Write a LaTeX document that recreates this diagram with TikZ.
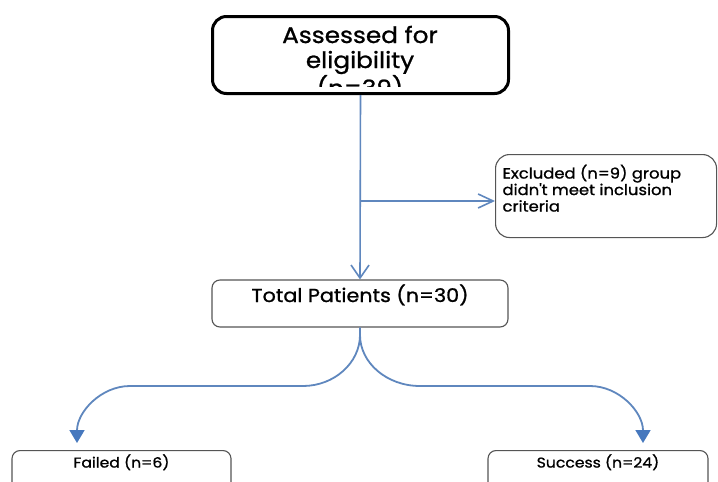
\documentclass[tikz,border=0pt]{standalone}
\usepackage{fontspec}
\setmainfont{Poppins}[FakeStretch=1.1, FakeBold=1.0]
\usetikzlibrary{arrows.meta}
\definecolor{flowblue}{RGB}{95,135,190}
\definecolor{tipblue}{RGB}{70,120,190}
\definecolor{boxgray}{RGB}{85,85,85}
\begin{document}
\begin{tikzpicture}[x=1pt,y=-1pt,
  softbox/.style={draw=boxgray, line width=1.1pt, rounded corners=8pt, inner sep=0pt},
  topboxstyle/.style={draw=black, line width=3pt, rounded corners=14pt, inner sep=0pt},
  flowline/.style={draw=flowblue, line width=1.6pt},
  curveline/.style={draw=flowblue, line width=1.8pt, -{Triangle[length=13pt,width=15pt,color=tipblue]}},
  openhead/.style={-{Straight Barb[length=13pt,width=18pt]}}
]
\useasboundingbox (0,0) rectangle (718,482);
\clip (0,0) rectangle (718,482);
\fill[white] (0,0) rectangle (718,482);

% top box (text clipped as in reference)
\node[topboxstyle, minimum width=296pt, minimum height=77pt] (topbox) at (360.5,55) {};
\begin{scope}
  \clip (214,18) rectangle (507,86);
  \node[inner sep=0pt, anchor=base, font=\fontsize{22.5}{25}\selectfont] (toptext) at (360,43)
    {\parbox[t]{280pt}{\centering Assessed for\\eligibility\\(n=39)}};
\end{scope}

% excluded box
\node[softbox, rounded corners=14pt, anchor=north west, inner xsep=7pt, inner ysep=0pt] (excl) at (495,154)
  {\parbox[t][83pt][t]{207pt}{\raggedright\fontsize{14.9}{16.5}\selectfont\rule{0pt}{24pt}Excluded (n=9) group\\didn\textquotesingle t meet inclusion\\criteria}};

% total patients
\node[softbox, minimum width=296pt, text height=22pt, text depth=25pt, font=\fontsize{18.8}{20}\selectfont] (total) at (360,303.5) {Total Patients (n=30)};

% outcome boxes
\node[softbox, anchor=north, minimum width=219pt, text height=17pt, text depth=30pt, font=\fontsize{14.2}{16}\selectfont] (failed) at (121.5,450) {Failed (n=6)};
\node[softbox, anchor=north, minimum width=220pt, text height=17pt, text depth=30pt, font=\fontsize{14.2}{16}\selectfont] (success) at (598,450) {Success (n=24)};

% connectors
\draw[flowline, openhead] (topbox.south) -- (total.north);
\coordinate (br) at (360,201);
\draw[flowline, -{Straight Barb[length=15pt,width=14pt]}] (br) -- (br -| excl.west);

\coordinate (ftip) at (77,443);
\coordinate (stip) at (643,443);
\draw[curveline] (total.south) -- (360,335) .. controls (360,363) and (334,386) .. (303,386)
  -- (130,386) .. controls (101,386) and (77,412) .. (ftip);
\draw[curveline] (total.south) -- (360,335) .. controls (360,363) and (387,386) .. (420,386)
  -- (590,386) .. controls (619,386) and (643,412) .. (stip);
\end{tikzpicture}
\end{document}
